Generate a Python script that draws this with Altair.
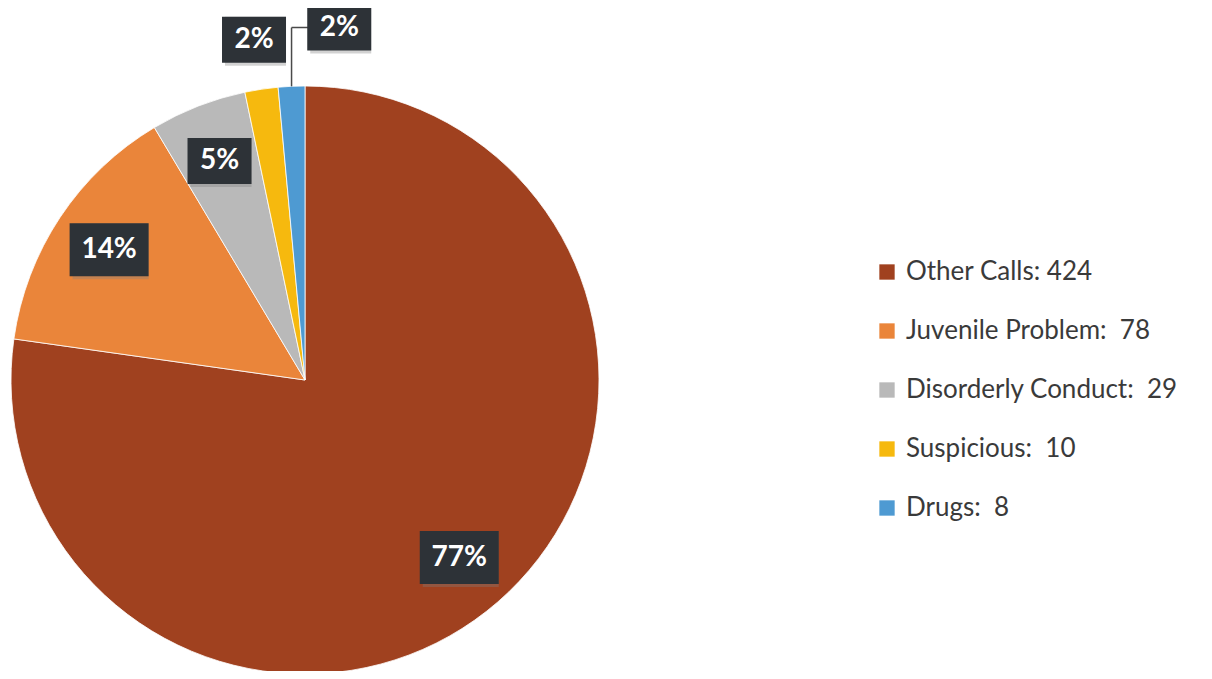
import altair as alt
import pandas as pd

# ---- data ----
categories = ["Other Calls", "Juvenile Problem", "Disorderly Conduct", "Suspicious", "Drugs"]
counts = [424, 78, 29, 10, 8]
legend_labels = ["Other Calls: 424", "Juvenile Problem:\u00a0 78",
                 "Disorderly Conduct:\u00a0 29", "Suspicious:\u00a0 10", "Drugs:\u00a0 8"]
pct_labels = ["77%", "14%", "5%", "2%", "2%"]
colors = ["#A0411F", "#EA853A", "#B9B9B9", "#F6B90E", "#4E9AD2"]

df = pd.DataFrame({
    "category": categories,
    "count": counts,
    "legend": legend_labels,
    "pct": pct_labels,
    "order": list(range(len(categories))),
})

# ---- layout ----
W, H = 1196, 663
R = 294          # pie radius (px)
CX, CY = 297, 372  # pie centre inside the view (px)

xs = alt.Scale(domain=[-CX / R, (W - CX) / R], nice=False, zero=False)
ys = alt.Scale(domain=[-(H - CY) / R, CY / R], nice=False, zero=False)

color = alt.Color(
    "legend:N",
    scale=alt.Scale(domain=legend_labels, range=colors),
    sort=legend_labels,
    legend=alt.Legend(
        orient="none", legendX=866, legendY=251, title=None,
        symbolType="square", symbolSize=235, symbolStrokeWidth=0,
        labelFontSize=26, labelFont="Lato", labelColor="#3a3a3a",
        rowPadding=33, labelOffset=6, padding=0, labelLimit=400,
    ),
)

pie = alt.Chart(df).mark_arc(radius=R, stroke="white", strokeWidth=0.8).encode(
    theta=alt.Theta("count:Q", stack=True),
    order=alt.Order("order:Q"),
    color=color,
    x=alt.value(CX),
    y=alt.value(CY),
)

base = alt.Chart(df).transform_joinaggregate(
    total="sum(count)"
).transform_window(
    cum="sum(count)", sort=[alt.SortField("order")], frame=[None, 0]
).transform_calculate(
    a0="(datum.cum - datum.count) / datum.total * 2 * PI",
    a1="datum.cum / datum.total * 2 * PI",
    share="datum.count / datum.total",
).transform_calculate(
    mid="(datum.a0 + datum.a1) / 2",
    outside="datum.share < 0.03",
    crowded="datum.share < 0.03 && datum.cum == datum.total",
).transform_calculate(
    lr="datum.outside ? 1.17 : 0.8",
).transform_calculate(
    lx="datum.lr * sin(datum.mid) + (datum.crowded ? 0.17 : 0)",
    ly="datum.lr * cos(datum.mid) + (datum.crowded ? 0.03 : 0)",
    ex="sin(datum.mid)",
    ey="cos(datum.mid)",
    hw=f"(length(datum.pct) > 2 ? 39.5 : 32) / {R}",
    hh=f"(length(datum.pct) > 2 ? 26.5 : 23) / {R}",
).transform_calculate(
    bx0="datum.lx - datum.hw",
    bx1="datum.lx + datum.hw",
    by0="datum.ly - datum.hh",
    by1="datum.ly + datum.hh",
)

leader_v = base.transform_filter("datum.crowded").mark_rule(
    color="#4a4a4a", strokeWidth=1.5
).encode(
    x=alt.X("ex:Q", scale=xs, axis=None),
    y=alt.Y("ey:Q", scale=ys, axis=None),
    y2="ly:Q",
)
leader_h = base.transform_filter("datum.crowded").mark_rule(
    color="#4a4a4a", strokeWidth=1.5
).encode(
    x=alt.X("ex:Q", scale=xs, axis=None),
    x2="lx:Q",
    y=alt.Y("ly:Q", scale=ys, axis=None),
)

shadow = base.mark_rect(color="#7f7f7f", opacity=0.35, xOffset=3, yOffset=3).encode(
    x=alt.X("bx0:Q", scale=xs, axis=None), x2="bx1:Q",
    y=alt.Y("by0:Q", scale=ys, axis=None), y2="by1:Q",
)
box = base.mark_rect(color="#2D3237").encode(
    x=alt.X("bx0:Q", scale=xs, axis=None), x2="bx1:Q",
    y=alt.Y("by0:Q", scale=ys, axis=None), y2="by1:Q",
)
text = base.mark_text(
    color="white", fontSize=28, fontWeight="bold", font="Lato", baseline="middle", align="center"
).encode(
    x=alt.X("lx:Q", scale=xs, axis=None),
    y=alt.Y("ly:Q", scale=ys, axis=None),
    text="pct:N",
)

chart = alt.layer(pie, leader_v, leader_h, shadow, box, text).properties(
    width=W, height=H, autosize=alt.AutoSizeParams(type="none"), padding=0,
    background="white",
).configure_view(strokeWidth=0)

chart.save("out.html", embed_options={"renderer": "svg", "actions": False})
